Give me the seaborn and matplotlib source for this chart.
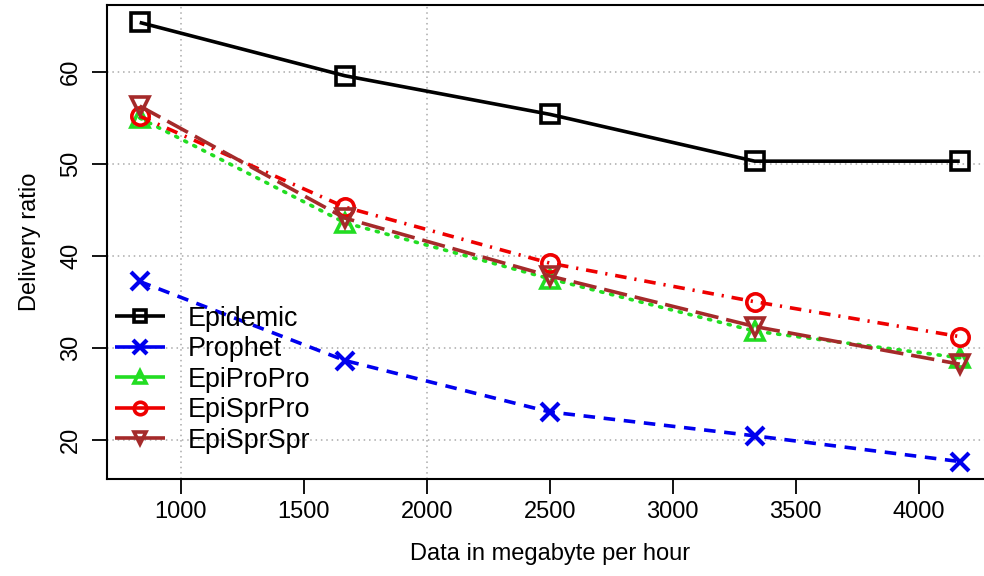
import matplotlib
matplotlib.use("Agg")
import matplotlib.pyplot as plt
import seaborn as sns
import pandas as pd

# ---- data ----
data_rate = [833, 1667, 2500, 3333, 4167]
epidemic = [65.4, 59.6, 55.4, 50.3, 50.3]
prophet = [37.2, 28.6, 23.0, 20.4, 17.6]
epipropro = [55.0, 43.6, 37.5, 31.8, 28.9]
episprpro = [55.2, 45.3, 39.2, 35.0, 31.2]
episprspr = [56.3, 44.1, 37.8, 32.3, 28.2]
series_names = ["Epidemic", "Prophet", "EpiProPro", "EpiSprPro", "EpiSprSpr"]
x_ticks = [1000, 1500, 2000, 2500, 3000, 3500, 4000]
y_ticks = [20, 30, 40, 50, 60]
x_grid = [1000, 2000]
x_label = "Data in megabyte per hour"
y_label = "Delivery ratio"

values = [epidemic, prophet, epipropro, episprpro, episprspr]
colors = ["#000000", "#0000EE", "#22DD22", "#EE0000", "#A52A2A"]
markers = ["s", "x", "^", "o", "v"]
linestyles = ["-", (0, (3.2, 2.4)), (0, (0.6, 2.2)), (0, (3.2, 2.2, 0.6, 2.2)), (0, (6.5, 2.2))]
dash_caps = ["butt", "butt", "round", "butt", "butt"]

sns.set_theme(style="white")
plt.rcParams["font.family"] = ["Liberation Sans", "DejaVu Sans"]
for k in ["text.color", "axes.labelcolor", "xtick.color", "ytick.color"]:
    plt.rcParams[k] = "black"

fig = plt.figure(figsize=(9.84, 5.76), dpi=100)
W, H = 984, 576
ax_left, ax_right, ax_top, ax_bottom = 107, 992.5, 5, 479
ax = fig.add_axes([ax_left / W, 1 - ax_bottom / H, (ax_right - ax_left) / W, (ax_bottom - ax_top) / H])

FS = 17
LFS = 19.4

for name, vals, c, m, ls, cap in zip(series_names, values, colors, markers, linestyles, dash_caps):
    df = pd.DataFrame({"x": data_rate, "y": vals})
    sns.lineplot(data=df, x="x", y="y", ax=ax, color=c, linestyle=ls, linewidth=2.6,
                 marker=m, markersize=12.5 if m != "x" else 13.5, markerfacecolor="none",
                 markeredgecolor=c, markeredgewidth=2.6 if m != "x" else 3.0, label=name,
                 dash_capstyle=cap, solid_capstyle="butt", zorder=3)

ax.set_xlim(700, 4300)
ax.set_ylim(15.7, 67.3)
ax.set_xticks(x_ticks)
ax.set_yticks(y_ticks)
ax.set_xticklabels([str(t) for t in x_ticks], fontsize=FS)
ax.set_yticklabels([str(t) for t in y_ticks], fontsize=FS, rotation=90, va="center")
ax.tick_params(axis="both", which="major", direction="out", length=11, width=1.3, color="black",
               bottom=True, left=True, pad=5)
ax.tick_params(axis="y", pad=7)
ax.set_xlabel(x_label, fontsize=FS, labelpad=14)
ax.set_ylabel(y_label, fontsize=FS, labelpad=14)

for yv in y_ticks:
    ax.axhline(yv, color="#AAAAAA", linestyle=(0, (1, 2.5)), linewidth=1.1, zorder=1)
for xv in x_grid:
    ax.axvline(xv, color="#AAAAAA", linestyle=(0, (1, 2.5)), linewidth=1.1, zorder=1)

for s in ax.spines.values():
    s.set_visible(True)
    s.set_color("black")
    s.set_linewidth(1.5)

leg = ax.legend(loc="upper left", bbox_to_anchor=(0.009, 0.366), frameon=False, fontsize=LFS,
                handlelength=1.86, handletextpad=0.85, labelspacing=0.17, borderpad=0,
                borderaxespad=0, numpoints=1, markerscale=0.72)
for h in leg.get_lines():
    h.set_linestyle("-")

fig.savefig("out.png", dpi=100, facecolor="white")
